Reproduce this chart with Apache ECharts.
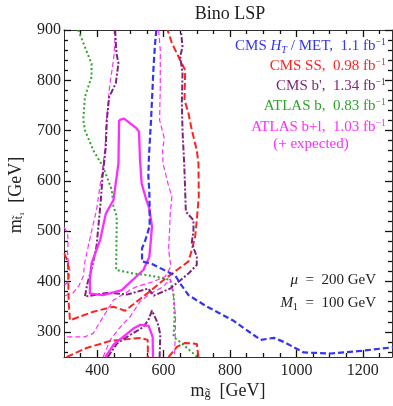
<!DOCTYPE html>
<html><head><meta charset="utf-8">
<script src="https://cdn.jsdelivr.net/npm/echarts@6/dist/echarts.min.js"></script>
<style>html,body{margin:0;padding:0;background:#fff}#c{width:393px;height:406px}</style>
</head><body><div id="c"></div>
<script>
// ---- tick values ----
const xMajorTicks = [400, 600, 800, 1000, 1200];
const xMinorTicks = [350, 450, 500, 550, 650, 700, 750, 850, 900, 950, 1050, 1100, 1150, 1250];
const yMajorTicks = [300, 400, 500, 600, 700, 800, 900];
const yMinorTicks = [260, 280, 320, 340, 360, 380, 420, 440, 460, 480, 520, 540, 560, 580,
  620, 640, 660, 680, 720, 740, 760, 780, 820, 840, 860, 880];

// ---- contour curves [m_gluino, m_stop] ----
const cmsHTMET = [[578,900],[574,870],[570,830],[565,760],[562,720],[556,650],[554,610],[557,580],
  [558,545],[558,510],[545,482],[535,466],[535,440],[565,435],[610,420],[635,412],[650,396],
  [675,373],[731,350],[811,322],[892,284],[932,288],[962,280],[1022,259],[1103,257],[1193,262],[1300,270]];
const cmsSSMain = [[301,456],[312,438],[313,400],[314,360],[318,323],[388,340],[449,350],[484,342],
  [550,376],[600,403],[640,423],[675,440],[685,463],[695,489],[700,522],[706,569],[705,635],
  [700,661],[685,701],[675,734],[663,761],[665,820],[650,840],[625,874],[612,900]];
const cmsSSLow = [[308,250],[368,268],[440,282],[530,288],[552,284],[553,250]];
const cmsSSRight = [[615,250],[640,270],[665,278],[700,276],[705,250]];
const cmsBpMain = [[454,900],[458,854],[464,834],[456,794],[436,767],[429,721],[426,668],[416,608],
  [411,562],[405,520],[398,470],[385,430],[370,395],[363,370],[436,378],[489,374],[554,386],
  [570,372],[620,386],[675,416],[700,433],[700,449],[685,477],[690,502],[690,522],[667,539],
  [664,600],[662,635],[657,700],[655,755],[657,814],[650,847],[657,867],[652,900]];
const cmsBpLow = [[432,250],[460,277],[490,290],[540,310],[555,325],[565,342],[582,318],[590,295],[588,250]];
const atlasB = [[343,900],[363,866],[383,833],[383,807],[363,767],[358,721],[363,701],[388,661],
  [418,628],[444,582],[449,549],[459,529],[457,423],[509,416],[549,413],[590,408],[620,403],
  [630,376],[633,330],[630,290],[655,277],[670,268],[702,250]];
const atlasBLObsUp = [[466,721],[481,724],[516,706],[526,698],[529,641],[534,595],[545,569],[557,545],
  [565,509],[560,470],[557,449],[539,423],[474,383],[418,373],[378,376],[378,403],[383,436],
  [409,483],[426,535],[449,562],[464,635],[466,721]];
const atlasBLObsLow = [[425,250],[450,275],[510,307],[530,314],[555,312],[567,290],[568,250]];
const atlasBLExpA = [[455,900],[451,854],[449,840],[437,787],[434,760],[426,708],[424,668],[416,622],
  [411,602],[398,542],[383,500],[373,470],[363,440],[358,410],[345,392],[328,378],[300,371]];
const atlasBLExpB = [[585,900],[590,860],[590,787],[588,721],[602,685],[597,660],[598,635],[615,590],
  [625,569],[620,536],[618,502],[615,463],[622,430],[605,410],[570,400],[519,390],[499,383],
  [449,363],[418,330],[388,297],[363,290],[300,290]];
const atlasBLExpC = [[418,250],[440,285],[470,310],[499,330],[529,360],[560,376],[600,390],[620,405],
  [628,380],[632,357],[636,330],[635,290],[633,250]];
const atlasBLExpD = [[300,508],[310,498],[313,480],[310,462],[313,440],[318,420],[313,400],[300,392]];

const C_BLUE = '#3434f4', C_RED = '#ff2222', C_PURP = '#7e237e', C_GREEN = '#2aa52a', C_MAG = '#ff2cff';
const SERIF = '"Liberation Serif", "DejaVu Serif", serif';

const chart = echarts.init(document.getElementById('c'), null, {renderer: 'canvas'});
const X0 = 300, X1 = 1288, Y0 = 250, Y1 = 900;
const axColor = '#333';
const plain = v => String(Math.round(v));
function xAx(pos, ticks, len, labels, line) {
  return {type: 'value', min: X0, max: X1, position: pos,
    axisLine: {show: line, lineStyle: {color: axColor, width: 1}},
    axisTick: {show: true, inside: true, length: len, customValues: ticks, lineStyle: {color: '#111', width: 1.3}},
    axisLabel: labels ? {show: true, customValues: ticks, formatter: plain, margin: 6, fontFamily: SERIF, fontSize: 16, color: '#222'} : {show: false},
    splitLine: {show: false}};
}
function yAx(pos, ticks, len, labels, line) {
  return {type: 'value', min: Y0, max: Y1, position: pos,
    axisLine: {show: line, lineStyle: {color: axColor, width: 1}},
    axisTick: {show: true, inside: true, length: len, customValues: ticks, lineStyle: {color: '#111', width: 1.3}},
    axisLabel: labels ? {show: true, customValues: ticks, formatter: plain, margin: 3, fontFamily: SERIF, fontSize: 16, color: '#222'} : {show: false},
    splitLine: {show: false}};
}
function ln(data, color, width, type) {
  return {type: 'line', data: data, xAxisIndex: 0, yAxisIndex: 0, showSymbol: false, symbol: 'none',
    clip: true, silent: true, animation: false,
    lineStyle: {color: color, width: width, type: type, cap: 'butt', join: 'round'}};
}
const rich = (fs, color) => ({
  n: {fontFamily: SERIF, fontSize: fs, color: color, lineHeight: 18, verticalAlign: 'middle'},
  i: {fontFamily: SERIF, fontSize: fs, fontStyle: 'italic', color: color, lineHeight: 18, verticalAlign: 'middle'},
  s: {fontFamily: SERIF, fontSize: fs * 0.68, fontStyle: 'italic', color: color, lineHeight: 18, verticalAlign: 'bottom'},
  u: {fontFamily: SERIF, fontSize: fs * 0.68, color: color, lineHeight: 18, verticalAlign: 'bottom'},
  p: {fontFamily: SERIF, fontSize: fs * 0.66, color: color, lineHeight: 18, verticalAlign: 'top'}
});
function txt(x, y, text, fs, color, align, rot) {
  return {type: 'text', x: x, y: y, rotation: rot || 0, silent: true, z: 100,
    style: {text: text, rich: rich(fs, color), align: align, verticalAlign: 'middle',
      fontFamily: SERIF, fontSize: fs, fill: color}};
}
const legendX = 386;
chart.setOption({
  animation: false,
  grid: {left: 64, top: 30, right: 1, bottom: 49, containLabel: false},
  xAxis: [xAx('bottom', xMajorTicks, 7, true, true), xAx('bottom', xMinorTicks, 4, false, false),
          xAx('top', xMajorTicks, 7, false, true), xAx('top', xMinorTicks, 4, false, false)],
  yAxis: [yAx('left', yMajorTicks, 7, true, true), yAx('left', yMinorTicks, 4, false, false),
          yAx('right', yMajorTicks, 7, false, true), yAx('right', yMinorTicks, 4, false, false)],
  series: [
    ln(atlasB, C_GREEN, 2, [2, 2.5]),
    ln(atlasBLExpA, C_MAG, 1.2, [5, 3]),
    ln(atlasBLExpB, C_MAG, 1.2, [5, 3]),
    ln(atlasBLExpC, C_MAG, 1.2, [5, 3]),
    ln(atlasBLExpD, C_MAG, 1.2, [5, 3]),
    ln(cmsSSMain, C_RED, 2, [7, 3]),
    ln(cmsSSLow, C_RED, 2, [7, 3]),
    ln(cmsSSRight, C_RED, 2, [7, 3]),
    ln(cmsBpMain, C_PURP, 2, [6, 2, 2, 2]),
    ln(cmsBpLow, C_PURP, 2, [6, 2, 2, 2]),
    ln(atlasBLObsUp, C_MAG, 2.3, 'solid'),
    ln(atlasBLObsLow, C_MAG, 2.3, 'solid'),
    ln(cmsHTMET, C_BLUE, 2.2, [6, 3])
  ],
  graphic: [
    txt(230, 14, '{n|Bino LSP}', 18, '#222', 'center'),
    txt(legendX, 46, '{n|CMS }{i|H}{s|T}{n| / MET,  1.1 fb}{p|−1}', 15, C_BLUE, 'right'),
    txt(legendX, 66, '{n|CMS SS,  0.98 fb}{p|−1}', 15, C_RED, 'right'),
    txt(legendX, 86, "{n|CMS b',  1.34 fb}{p|−1}", 15, C_PURP, 'right'),
    txt(legendX, 106, '{n|ATLAS b,  0.83 fb}{p|−1}', 15, C_GREEN, 'right'),
    txt(legendX, 127, '{n|ATLAS b+l,  1.03 fb}{p|−1}', 15, C_MAG, 'right'),
    txt(311, 144, '{n|(+ expected)}', 15, C_MAG, 'center'),
    txt(376, 280, '{i|μ}{n|  =  200 GeV}', 15, '#222', 'right'),
    txt(376, 303, '{i|M}{u|1}{n|  =  100 GeV}', 15, '#222', 'right'),
    txt(228, 391, '{n|m}{u|g̃}{n|  [GeV]}', 18, '#222', 'center'),
    txt(16, 195, '{n|m}{u|t̃₁}{n|  [GeV]}', 18, '#222', 'center', Math.PI / 2)
  ]
});
</script></body></html>
